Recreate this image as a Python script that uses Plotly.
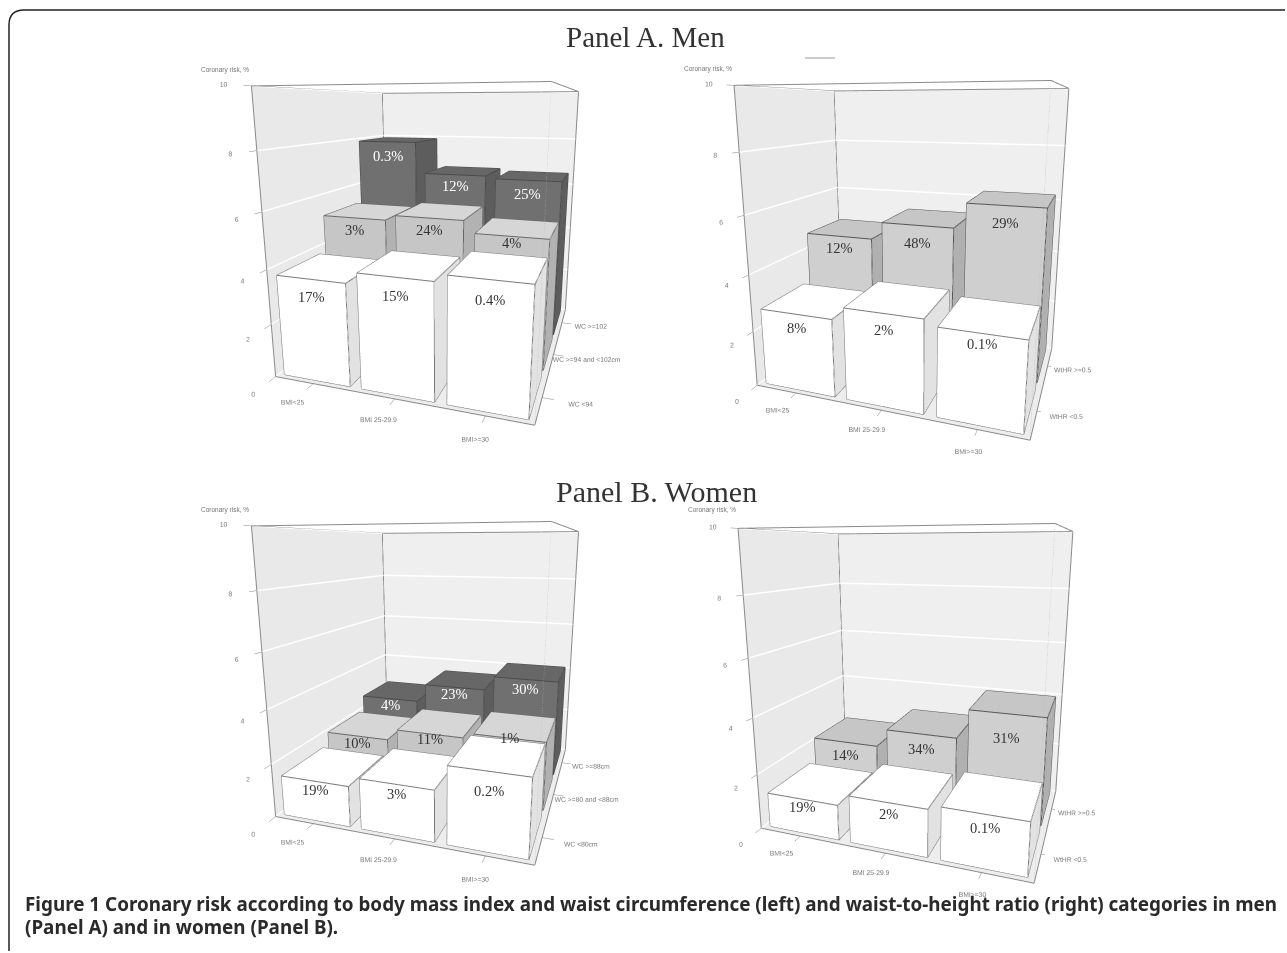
import plotly.graph_objects as go

bmi_labels = ["BMI<25", "BMI 25-29.9", "BMI>=30"]
men_wc_labels = ["WC <94", "WC >=94 and <102cm", "WC >=102"]
women_wc_labels = ["WC <80cm", "WC >=80 and <88cm", "WC >=88cm"]
whtr_labels = ["WtHR <0.5", "WtHR >=0.5"]
z_ticks = [0, 2, 4, 6, 8, 10]

men_wc_low = [3.75, 4.15, 4.4]
men_wc_mid = [5.2, 5.4, 4.95]
men_wc_high = [7.9, 6.6, 6.5]
men_wc_low_pct = ["17%", "15%", "0.4%"]
men_wc_mid_pct = ["3%", "24%", "4%"]
men_wc_high_pct = ["0.3%", "12%", "25%"]

men_wh_low = [2.75, 3.2, 3.0]
men_wh_high = [4.65, 5.3, 6.2]
men_wh_low_pct = ["8%", "2%", "0.1%"]
men_wh_high_pct = ["12%", "48%", "29%"]

women_wc_low = [1.5, 1.85, 2.75]
women_wc_mid = [2.0, 2.45, 2.65]
women_wc_high = [2.65, 3.45, 4.05]
women_wc_low_pct = ["19%", "3%", "0.2%"]
women_wc_mid_pct = ["10%", "11%", "1%"]
women_wc_high_pct = ["4%", "23%", "30%"]

women_wh_low = [1.25, 1.65, 1.8]
women_wh_high = [2.15, 2.85, 3.95]
women_wh_low_pct = ["19%", "2%", "0.1%"]
women_wh_high_pct = ["14%", "34%", "31%"]

WHITE = dict(front="#ffffff", side="#e2e2e2", top="#ffffff", edge="#777777", text="#333333")
MID = dict(front="#c6c6c6", side="#b2b2b2", top="#d6d6d6", edge="#666666", text="#333333")
GREY = dict(front="#cfcfcf", side="#b0b0b0", top="#c6c6c6", edge="#555555", text="#333333")
DARK = dict(front="#707070", side="#5d5d5d", top="#676767", edge="#4a4a4a", text="#ffffff")

fig = go.Figure()


def add_bar(scene, x, y, h, style, w=0.43):
    x0, x1, y0, y1 = x - w, x + w, y - w, y + w
    vx = [x0, x1, x1, x0, x0, x1, x1, x0]
    vy = [y0, y0, y1, y1, y0, y0, y1, y1]
    vz = [0, 0, 0, 0, h, h, h, h]
    tri = [(0, 1, 5), (0, 5, 4), (1, 2, 6), (1, 6, 5), (2, 3, 7), (2, 7, 6),
           (3, 0, 4), (3, 4, 7), (4, 5, 6), (4, 6, 7), (0, 1, 2), (0, 2, 3)]
    cols = [style["front"]] * 2 + [style["side"]] * 2 + [style["side"]] * 4 + [style["top"]] * 2 + [style["front"]] * 2
    fig.add_trace(go.Mesh3d(x=vx, y=vy, z=vz, i=[t[0] for t in tri], j=[t[1] for t in tri],
                            k=[t[2] for t in tri], facecolor=cols, flatshading=True,
                            lighting=dict(ambient=1, diffuse=0, specular=0, roughness=1, fresnel=0),
                            hoverinfo="skip", showscale=False, scene=scene))
    lx, ly, lz = [], [], []
    for a, b in [(0, 1), (1, 2), (4, 5), (5, 6), (6, 7), (7, 4), (0, 4), (1, 5), (2, 6)]:
        lx += [vx[a], vx[b], None]
        ly += [vy[a], vy[b], None]
        lz += [vz[a], vz[b], None]
    fig.add_trace(go.Scatter3d(x=lx, y=ly, z=lz, mode="lines", line=dict(color=style["edge"], width=2),
                               hoverinfo="skip", showlegend=False, scene=scene))


def add_frame(scene, nrows):
    X, Y, Z = 3, nrows, 10
    c = [(0, 0, Z), (X, 0, Z), (X, Y, Z), (0, Y, Z), (0, 0, Z)]
    lx = [p[0] for p in c] + [None, 0, 0, None, X, X, None, 0, 0, None, 0, X, None, X, X]
    ly = [p[1] for p in c] + [None, 0, 0, None, Y, Y, None, Y, Y, None, 0, 0, None, 0, Y]
    lz = [p[2] for p in c] + [None, 0, Z, None, 0, Z, None, 0, Z, None, 0, 0, None, 0, 0]
    fig.add_trace(go.Scatter3d(x=lx, y=ly, z=lz, mode="lines", line=dict(color="#8a8a8a", width=2),
                               hoverinfo="skip", showlegend=False, scene=scene))
    fig.add_trace(go.Scatter3d(x=[X, X], y=[0, 0], z=[0, Z], mode="lines",
                               line=dict(color="#b5b5b5", width=1, dash="dot"),
                               hoverinfo="skip", showlegend=False, scene=scene))


def panel(scene, rows, row_labels, domain_x, domain_y, eye, center, aspect, title_xy, x_ticklen=8):
    nrows = len(rows)
    add_frame(scene, nrows)
    notes = []
    for r in reversed(range(nrows)):
        heights, pcts, style, drops = rows[r]
        for c in range(3):
            add_bar(scene, c + 0.5, r + 0.5, heights[c], style)
            notes.append(dict(x=c + 0.5, y=r + 0.08, z=heights[c] - drops[c], text=pcts[c], showarrow=False,
                              font=dict(family="Liberation Serif", size=14.5, color=style["text"])))
    axis = dict(showbackground=True, showgrid=False, zeroline=False, showspikes=False, showline=False,
                title=dict(text=""), tickfont=dict(family="Liberation Sans", size=9, color="#777777"),
                tickangle=0, ticks="outside", ticklen=8, tickcolor="#888888")
    layout_scene = dict(
        domain=dict(x=domain_x, y=domain_y),
        xaxis=dict(axis, range=[0, 3], tickvals=[0.5, 1.5, 2.5], ticktext=bmi_labels, backgroundcolor="#e9e9e9",
                   ticklen=x_ticklen),
        yaxis=dict(axis, range=[0, nrows], tickvals=[i + 0.5 for i in range(nrows)], ticktext=row_labels,
                   backgroundcolor="#efefef"),
        zaxis=dict(axis, range=[0, 10], tickvals=z_ticks, backgroundcolor="#ededed",
                   showgrid=True, gridcolor="#ffffff", gridwidth=3),
        aspectmode="manual", aspectratio=dict(x=aspect[0], y=aspect[1], z=aspect[2]),
        camera=dict(eye=eye, center=center, up=dict(x=0, y=0, z=1)),
        annotations=notes, dragmode=False,
    )
    fig.update_layout({scene: layout_scene})
    return dict(x=title_xy[0], y=title_xy[1], xref="paper", yref="paper", text="Coronary risk, %", showarrow=False,
                font=dict(family="Liberation Sans", size=6.5, color="#777777"), xanchor="left", yanchor="middle")


W, H = 1287, 953


def dy(top, bottom):
    return [1 - bottom / H, 1 - top / H]


def dx(left, right):
    return [left / W, right / W]


eye_wc = dict(x=0.65, y=-1.95, z=0.45)
center_wc = dict(x=0, y=0, z=-0.05)
aspect_wc = (0.95, 1.0, 1.03)
eye_wh = dict(x=0.62, y=-1.75, z=0.45)
center_wh = dict(x=0, y=0, z=0)
aspect_wh = (0.957, 0.655, 1.026)
titles = [
    panel("scene", [(men_wc_low, men_wc_low_pct, WHITE, [.65, .65, .65]), (men_wc_mid, men_wc_mid_pct, MID, [.5, .45, .25]),
                    (men_wc_high, men_wc_high_pct, DARK, [.6, .5, .55])], men_wc_labels,
          dx(206, 676), dy(18, 448), eye_wc, center_wc, aspect_wc, (199 / W, 1 - 70 / H)),
    panel("scene2", [(men_wh_low, men_wh_low_pct, WHITE, [.5, .55, .35]), (men_wh_high, men_wh_high_pct, GREY, [.45, .65, .6])], whtr_labels,
          dx(680, 1150), dy(15, 455), eye_wh, center_wh, aspect_wh, (682 / W, 1 - 69 / H), x_ticklen=3),
    panel("scene3", [(women_wc_low, women_wc_low_pct, WHITE, [.35, .35, .65]), (women_wc_mid, women_wc_mid_pct, MID, [.3, .2, 0]),
                     (women_wc_high, women_wc_high_pct, DARK, [.3, .3, .4])], women_wc_labels,
          dx(206, 676), dy(458, 888), eye_wc, center_wc, aspect_wc, (199 / W, 1 - 510 / H)),
    panel("scene4", [(women_wh_low, women_wh_low_pct, WHITE, [.3, .4, .45]), (women_wh_high, women_wh_high_pct, GREY, [.55, .6, .9])], whtr_labels,
          dx(684, 1154), dy(458, 898), eye_wh, center_wh, aspect_wh, (686 / W, 1 - 510 / H), x_ticklen=3),
]

texts = titles + [
    dict(x=645 / W, y=1 - 37 / H, xref="paper", yref="paper", text="Panel A. Men", showarrow=False, yanchor="middle",
         font=dict(family="Liberation Serif", size=29, color="#333333")),
    dict(x=656 / W, y=1 - 491 / H, xref="paper", yref="paper", text="Panel B. Women", showarrow=False, yanchor="middle",
         font=dict(family="Liberation Serif", size=30, color="#333333")),
    dict(x=23 / W, y=1 - 904 / H, xref="paper", yref="paper", xanchor="left", yanchor="middle", showarrow=False,
         text="<b>Figure 1</b> <b>Coronary risk according to body mass index and waist circumference (left) and waist-to-height ratio (right) categories in men</b>",
         font=dict(family="Noto Sans", size=18.85, color="#2a2a2a")),
    dict(x=23 / W, y=1 - 927 / H, xref="paper", yref="paper", xanchor="left", yanchor="middle", showarrow=False,
         text="<b>(Panel A) and in women (Panel B).</b>",
         font=dict(family="Noto Sans", size=18.85, color="#2a2a2a")),
]

shapes = [
    dict(type="path", xref="paper", yref="paper", line=dict(color="#222222", width=1.5),
         path=f"M {1285/W} {1-10/H} L {24/W} {1-10/H} Q {9/W} {1-10/H} {9/W} {1-25/H} L {9/W} {1-951/H}"),
    dict(type="line", xref="paper", yref="paper", x0=805 / W, x1=835 / W, y0=1 - 58 / H, y1=1 - 58 / H,
         line=dict(color="#cccccc", width=2)),
]

fig.update_layout(width=W, height=H, margin=dict(l=0, r=0, t=0, b=0), paper_bgcolor="white",
                  showlegend=False, annotations=texts, shapes=shapes)
fig.write_html("out.html", config=dict(displayModeBar=False),
               post_script="document.body.style.margin='0';document.documentElement.style.overflow='hidden';")
